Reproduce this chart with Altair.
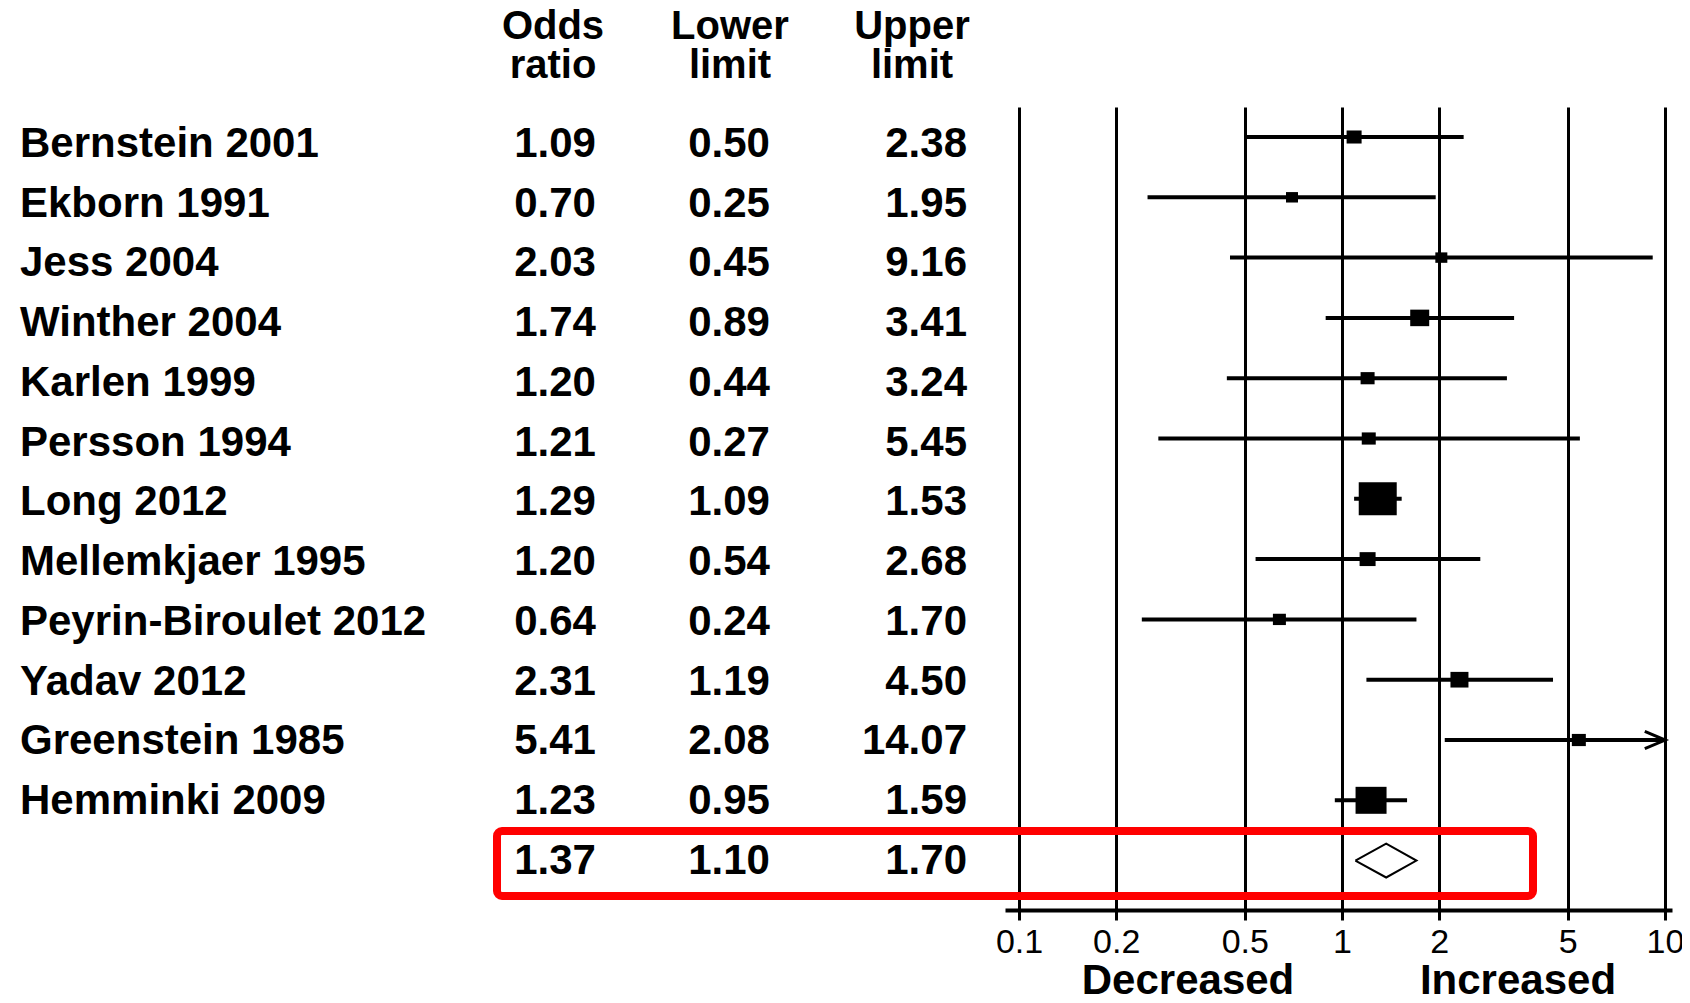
import altair as alt
import pandas as pd

# ---------------- data ----------------
studies = ["Bernstein 2001", "Ekborn 1991", "Jess 2004", "Winther 2004", "Karlen 1999",
           "Persson 1994", "Long 2012", "Mellemkjaer 1995", "Peyrin-Biroulet 2012",
           "Yadav 2012", "Greenstein 1985", "Hemminki 2009"]
odds_ratio = [1.09, 0.70, 2.03, 1.74, 1.20, 1.21, 1.29, 1.20, 0.64, 2.31, 5.41, 1.23]
lower_limit = [0.50, 0.25, 0.45, 0.89, 0.44, 0.27, 1.09, 0.54, 0.24, 1.19, 2.08, 0.95]
upper_limit = [2.38, 1.95, 9.16, 3.41, 3.24, 5.45, 1.53, 2.68, 1.70, 4.50, 14.07, 1.59]
marker_width = [15, 12, 12, 19, 14, 14, 38, 16, 13, 18, 14, 31]   # relative study weight
summary_or = 1.37
summary_lower = 1.10
summary_upper = 1.70
tick_values = [0.1, 0.2, 0.5, 1, 2, 5, 10]
axis_max = 10

# ---------------- tables ----------------
n = len(studies)
df = pd.DataFrame({
    "study": studies, "or": odds_ratio, "lower": lower_limit, "upper": upper_limit,
    "w": marker_width, "row": list(range(n)),
})
df["upper_clip"] = df["upper"].clip(upper=axis_max)
df["size"] = df["w"] ** 2
arrow_df = df[df["upper"] > axis_max]

table_df = pd.DataFrame({
    "or": odds_ratio + [summary_or],
    "lower": lower_limit + [summary_lower],
    "upper": upper_limit + [summary_upper],
    "row": list(range(n + 1)),
})

half_h = 0.28
diamond_df = pd.DataFrame({
    "x": [summary_lower, summary_or, summary_upper, summary_or, summary_lower],
    "y": [n, n - half_h, n, n + half_h, n],
    "o": [0, 1, 2, 3, 4],
})

FONT = "Liberation Sans"
W, H = 667, 803

xscale = alt.Scale(type="log", domain=[0.0905, 10.51], nice=False)
yscale = alt.Scale(domain=[-0.4975, 12.819], reverse=True, nice=False, zero=False)
tscale = alt.Scale(domain=[-0.8368, 12.603], reverse=True, nice=False, zero=False)
xaxis = alt.Axis(values=tick_values, grid=True, gridColor="black", gridWidth=3, gridOpacity=1,
                 domainColor="black", domainWidth=4, tickColor="black", tickWidth=3, tickSize=10,
                 labelFont=FONT, labelFontSize=34, labelColor="black", labelPadding=5,
                 labelFlush=False, labelOverlap=False, title=None, format="~g")

ci = alt.Chart(df).mark_rule(color="black", strokeWidth=4).encode(
    x=alt.X("lower:Q", scale=xscale, axis=xaxis),
    x2="upper_clip:Q",
    y=alt.Y("row:Q", scale=yscale, axis=None),
)

markers = alt.Chart(df).mark_point(
    shape="M-1,-0.87L1,-0.87L1,0.87L-1,0.87Z", filled=True, color="black", opacity=1, strokeWidth=0
).encode(
    x=alt.X("or:Q", scale=xscale),
    y=alt.Y("row:Q", scale=yscale, axis=None),
    size=alt.Size("size:Q", scale=None, legend=None),
)

arrows = alt.Chart(arrow_df).mark_point(
    shape="M-1,-0.85L1,0L-1,0.85", filled=False, color="black", opacity=1, strokeWidth=3,
    size=420, xOffset=-10
).encode(
    x=alt.X("upper_clip:Q", scale=xscale),
    y=alt.Y("row:Q", scale=yscale, axis=None),
)

diamond = alt.Chart(diamond_df).mark_line(color="black", strokeWidth=2).encode(
    x=alt.X("x:Q", scale=xscale),
    y=alt.Y("y:Q", scale=yscale, axis=None),
    order="o:Q",
)

txt = dict(font=FONT, fontSize=42, fontWeight="bold", color="black", baseline="alphabetic")

labels = alt.Chart(df).mark_text(align="left", **txt).encode(
    x=alt.value(-985), y=alt.Y("row:Q", scale=tscale, axis=None), text="study:N")
col_or = alt.Chart(table_df).mark_text(align="center", **txt).encode(
    x=alt.value(-450), y=alt.Y("row:Q", scale=tscale, axis=None), text=alt.Text("or:Q", format=".2f"))
col_lo = alt.Chart(table_df).mark_text(align="center", **txt).encode(
    x=alt.value(-276), y=alt.Y("row:Q", scale=tscale, axis=None), text=alt.Text("lower:Q", format=".2f"))
col_up = alt.Chart(table_df).mark_text(align="right", **txt).encode(
    x=alt.value(-38), y=alt.Y("row:Q", scale=tscale, axis=None), text=alt.Text("upper:Q", format=".2f"))

hdr_style = dict(font=FONT, fontSize=40, fontWeight="bold", color="black", baseline="alphabetic",
                 align="center", lineBreak="\n", lineHeight=39)
headers = [
    alt.Chart().mark_text(text="Odds\nratio", **hdr_style).encode(x=alt.value(-452), y=alt.value(-68)),
    alt.Chart().mark_text(text="Lower\nlimit", **hdr_style).encode(x=alt.value(-275), y=alt.value(-68)),
    alt.Chart().mark_text(text="Upper\nlimit", **hdr_style).encode(x=alt.value(-93), y=alt.value(-68)),
]

dir_style = dict(font=FONT, fontSize=42, fontWeight="bold", color="black", baseline="alphabetic",
                 align="center")
directions = [
    alt.Chart().mark_text(text="Decreased", **dir_style).encode(x=alt.value(183), y=alt.value(887)),
    alt.Chart().mark_text(text="Increased", **dir_style).encode(x=alt.value(513), y=alt.value(887)),
]

highlight = alt.Chart().mark_rect(
    stroke="#ff0000", strokeWidth=8, fillOpacity=0, cornerRadius=5
).encode(x=alt.value(-508), x2=alt.value(528), y=alt.value(724), y2=alt.value(789))

chart = alt.layer(
    ci, markers, arrows, diamond, labels, col_or, col_lo, col_up, *headers, *directions, highlight
).resolve_scale(y="independent").properties(
    width=W, height=H,
    padding={"left": 997, "top": 99, "right": 10, "bottom": 85},
    autosize=alt.AutoSizeParams(type="none"),
    background="white",
).configure_view(stroke=None)

chart.save("out.html", embed_options={"renderer": "svg", "actions": False})
